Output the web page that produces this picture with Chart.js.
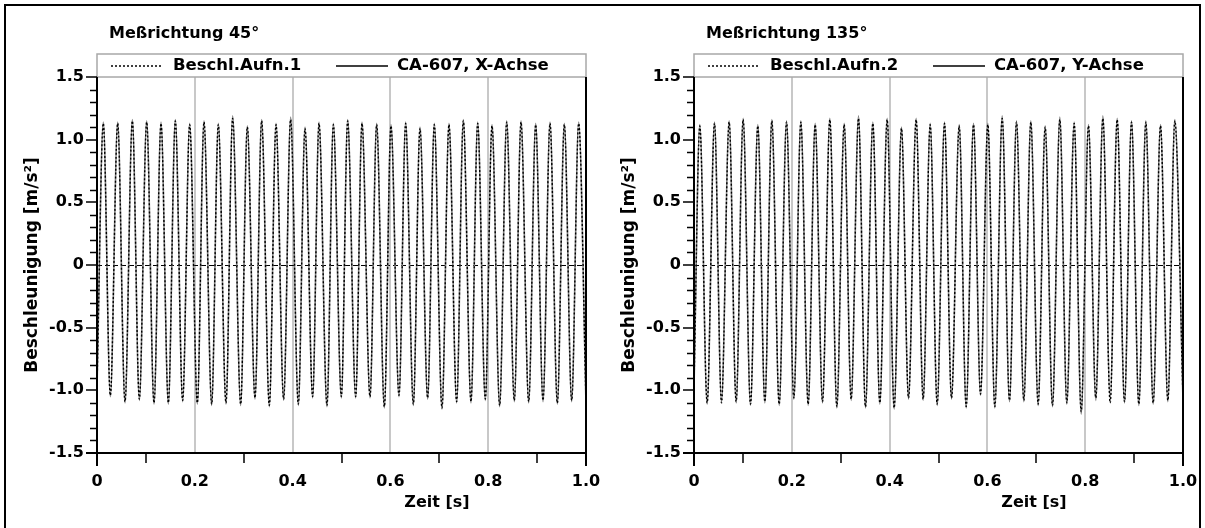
<!DOCTYPE html>
<html>
<head>
<meta charset="utf-8">
<script src="https://cdn.jsdelivr.net/npm/chart.js@4.4.1/dist/chart.umd.min.js"></script>
<style>
  html, body { margin: 0; padding: 0; background: #fff; }
  body { width: 1205px; height: 528px; position: relative; overflow: hidden; }
  .panel { position: absolute; top: 0; width: 600px; height: 528px; }
  #frame { position: absolute; left: 4px; top: 4px; width: 1197px; height: 540px; border: 2px solid #000; box-sizing: border-box; pointer-events: none; }
</style>
</head>
<body>
<div class="panel" style="left:0px"><canvas id="c1" width="600" height="528"></canvas></div>
<div class="panel" style="left:597px"><canvas id="c2" width="600" height="528"></canvas></div>
<div id="frame"></div>
<script>
// ---------------- data ----------------
const panelTitles = ['Meßrichtung 45°', 'Meßrichtung 135°'];
const dottedNames = ['Beschl.Aufn.1', 'Beschl.Aufn.2'];
const solidNames = ['CA-607, X-Achse', 'CA-607, Y-Achse'];
const xAxisTitle = 'Zeit [s]';
const yAxisTitle = 'Beschleunigung [m/s²]';

const xTickValues = [0, 0.2, 0.4, 0.6, 0.8, 1.0];
const xTickLabels = ['0', '0.2', '0.4', '0.6', '0.8', '1.0'];
const xMinorTicks = [0.1, 0.3, 0.5, 0.7, 0.9];
const xGridValues = [0.2, 0.4, 0.6, 0.8];
const yTickValues = [-1.5, -1.0, -0.5, 0, 0.5, 1.0, 1.5];
const yTickLabels = ['-1.5', '-1.0', '-0.5', '0', '0.5', '1.0', '1.5'];
const yMinorTicks = [-1.4, -1.3, -1.2, -1.1, -0.9, -0.8, -0.7, -0.6, -0.4, -0.3, -0.2, -0.1,
                     0.1, 0.2, 0.3, 0.4, 0.6, 0.7, 0.8, 0.9, 1.1, 1.2, 1.3, 1.4];

// Left panel (45°): times of wave crests and troughs [s], and their values [m/s²]
const leftPeakTimes = [0.0129, 0.0423, 0.0723, 0.1016, 0.1309, 0.1602, 0.1895, 0.2188, 0.2481, 0.2774,
  0.3074, 0.3367, 0.3661, 0.3960, 0.4254, 0.4540, 0.4833, 0.5126, 0.5419, 0.5719, 0.6012, 0.6312,
  0.6605, 0.6898, 0.7198, 0.7491, 0.7785, 0.8078, 0.8378, 0.8671, 0.8971, 0.9264, 0.9557, 0.9850];
const leftTroughTimes = [0, 0.0273, 0.0573, 0.0866, 0.1166, 0.1459, 0.1752, 0.2052, 0.2345, 0.2638,
  0.2938, 0.3231, 0.3524, 0.3817, 0.4117, 0.4410, 0.4703, 0.4997, 0.5290, 0.5583, 0.5876, 0.6176,
  0.6469, 0.6762, 0.7055, 0.7355, 0.7648, 0.7941, 0.8234, 0.8534, 0.8828, 0.9121, 0.9414, 0.9707, 1.0];
const leftSolidPeaks = [1.14, 1.14, 1.16, 1.15, 1.14, 1.16, 1.13, 1.15, 1.13, 1.19, 1.11, 1.16, 1.13, 1.18,
  1.10, 1.14, 1.13, 1.16, 1.14, 1.13, 1.12, 1.14, 1.10, 1.13, 1.13, 1.16, 1.14, 1.12, 1.15, 1.15, 1.13,
  1.14, 1.13, 1.14];
const leftSolidTroughs = [-0.98, -1.05, -1.10, -1.08, -1.11, -1.11, -1.09, -1.11, -1.12, -1.11, -1.12,
  -1.07, -1.13, -1.08, -1.12, -1.06, -1.13, -1.06, -1.06, -1.06, -1.14, -1.05, -1.12, -1.07, -1.15,
  -1.10, -1.10, -1.08, -1.13, -1.09, -1.10, -1.09, -1.11, -1.09, -1.11];
const leftDottedPeaks = [1.13, 1.13, 1.15, 1.14, 1.13, 1.15, 1.12, 1.14, 1.12, 1.17, 1.10, 1.15, 1.12, 1.16,
  1.09, 1.13, 1.12, 1.15, 1.13, 1.12, 1.11, 1.13, 1.09, 1.12, 1.12, 1.15, 1.13, 1.11, 1.14, 1.14, 1.12,
  1.13, 1.12, 1.13];
const leftDottedTroughs = [-0.97, -1.04, -1.09, -1.07, -1.10, -1.10, -1.08, -1.10, -1.11, -1.10, -1.11,
  -1.06, -1.12, -1.07, -1.11, -1.05, -1.12, -1.05, -1.05, -1.05, -1.13, -1.04, -1.11, -1.06, -1.14,
  -1.09, -1.09, -1.07, -1.12, -1.08, -1.09, -1.08, -1.10, -1.08, -1.10];

// Right panel (135°)
const rightPeakTimes = [0.0119, 0.0419, 0.0719, 0.1005, 0.1305, 0.1592, 0.1892, 0.2185, 0.2478, 0.2778,
  0.3071, 0.3364, 0.3657, 0.3950, 0.4243, 0.4543, 0.4830, 0.5123, 0.5423, 0.5716, 0.6009, 0.6302,
  0.6595, 0.6888, 0.7181, 0.7481, 0.7774, 0.8067, 0.8361, 0.8654, 0.8947, 0.9240, 0.9540, 0.9833];
const rightTroughTimes = [0, 0.0269, 0.0562, 0.0862, 0.1155, 0.1449, 0.1742, 0.2042, 0.2335, 0.2628,
  0.2921, 0.3214, 0.3507, 0.3800, 0.4093, 0.4387, 0.4686, 0.4973, 0.5266, 0.5566, 0.5859, 0.6152,
  0.6452, 0.6745, 0.7038, 0.7331, 0.7624, 0.7918, 0.8217, 0.8511, 0.8804, 0.9097, 0.9390, 0.9690, 1.0];
const rightSolidPeaks = [1.12, 1.14, 1.15, 1.17, 1.12, 1.16, 1.15, 1.15, 1.13, 1.17, 1.13, 1.19, 1.14, 1.17,
  1.10, 1.17, 1.13, 1.14, 1.12, 1.13, 1.13, 1.19, 1.15, 1.15, 1.11, 1.18, 1.14, 1.12, 1.19, 1.17, 1.15,
  1.15, 1.12, 1.16];
const rightSolidTroughs = [-0.98, -1.11, -1.09, -1.10, -1.12, -1.10, -1.12, -1.07, -1.12, -1.10, -1.14,
  -1.08, -1.14, -1.11, -1.15, -1.07, -1.08, -1.12, -1.07, -1.14, -1.04, -1.14, -1.09, -1.09, -1.12,
  -1.13, -1.11, -1.19, -1.08, -1.07, -1.10, -1.12, -1.11, -1.09, -1.08];
const rightDottedPeaks = [1.11, 1.13, 1.14, 1.16, 1.11, 1.15, 1.14, 1.14, 1.12, 1.16, 1.12, 1.17, 1.13, 1.16,
  1.09, 1.16, 1.12, 1.13, 1.11, 1.12, 1.12, 1.17, 1.14, 1.14, 1.10, 1.16, 1.13, 1.11, 1.17, 1.16, 1.14,
  1.14, 1.11, 1.15];
const rightDottedTroughs = [-0.97, -1.10, -1.10, -1.09, -1.11, -1.09, -1.11, -1.06, -1.11, -1.09, -1.13,
  -1.07, -1.13, -1.10, -1.14, -1.06, -1.07, -1.11, -1.06, -1.13, -1.03, -1.13, -1.08, -1.08, -1.11,
  -1.12, -1.10, -1.17, -1.06, -1.10, -1.09, -1.11, -1.10, -1.08, -1.07];

// ---------------- helpers ----------------
function mergePoints(peakT, peakV, troughT, troughV) {
  const pts = [];
  peakT.forEach((t, i) => pts.push({x: t, y: peakV[i]}));
  troughT.forEach((t, i) => pts.push({x: t, y: troughV[i]}));
  pts.sort((a, b) => a.x - b.x);
  return pts;
}

const FONT = '"DejaVu Sans", "Liberation Sans", Arial, sans-serif';

function decorPlugin(idx) {
  return {
    id: 'decor' + idx,
    beforeDatasetsDraw(chart) {
      const {ctx, chartArea: ca, scales: {x, y}} = chart;
      ctx.save();
      // vertical grid lines
      ctx.strokeStyle = '#c8c8c8';
      ctx.lineWidth = 2;
      xGridValues.forEach(v => {
        const px = Math.round(x.getPixelForValue(v));
        ctx.beginPath(); ctx.moveTo(px, ca.top); ctx.lineTo(px, ca.bottom); ctx.stroke();
      });
      // zero line
      ctx.strokeStyle = '#000';
      ctx.lineWidth = 1;
      ctx.setLineDash([5, 3]);
      const py0 = Math.round(y.getPixelForValue(0)) + 0.5;
      ctx.beginPath(); ctx.moveTo(ca.left, py0); ctx.lineTo(ca.right, py0); ctx.stroke();
      ctx.restore();
    },
    afterDraw(chart) {
      const {ctx, chartArea: ca, scales: {x, y}} = chart;
      ctx.save();
      // legend box + top border (grey)
      ctx.strokeStyle = '#a8a8a8';
      ctx.lineWidth = 1.5;
      ctx.strokeRect(ca.left, 54, ca.right - ca.left, ca.top - 54);
      // axes frame (black)
      ctx.strokeStyle = '#000';
      ctx.lineWidth = 2;
      ctx.beginPath();
      ctx.moveTo(ca.left, ca.top); ctx.lineTo(ca.left, ca.bottom + 13);
      ctx.moveTo(ca.right, ca.top); ctx.lineTo(ca.right, ca.bottom + 13);
      ctx.moveTo(ca.left - 11, ca.bottom); ctx.lineTo(ca.right, ca.bottom);
      ctx.stroke();
      // ticks
      ctx.lineWidth = 1.5;
      ctx.beginPath();
      yTickValues.forEach(v => {
        const py = Math.round(y.getPixelForValue(v));
        ctx.moveTo(ca.left - 11, py); ctx.lineTo(ca.left, py);
      });
      yMinorTicks.forEach(v => {
        const py = Math.round(y.getPixelForValue(v)) + 0.5;
        ctx.moveTo(ca.left - 7, py); ctx.lineTo(ca.left, py);
      });
      xMinorTicks.forEach(v => {
        const px = Math.round(x.getPixelForValue(v));
        ctx.moveTo(px, ca.bottom); ctx.lineTo(px, ca.bottom + 10);
      });
      ctx.stroke();
      // panel title
      ctx.fillStyle = '#000';
      ctx.textBaseline = 'middle';
      ctx.textAlign = 'left';
      ctx.font = 'bold 16px ' + FONT;
      ctx.fillText(panelTitles[idx], ca.left + 12, 34);
      // legend
      const ly = 66;
      ctx.font = 'bold 16.5px ' + FONT;
      ctx.lineWidth = 1.5;
      ctx.setLineDash([2, 2]);
      ctx.beginPath(); ctx.moveTo(ca.left + 14, ly); ctx.lineTo(ca.left + 65, ly); ctx.stroke();
      ctx.setLineDash([]);
      ctx.fillText(dottedNames[idx], ca.left + 76, ly);
      ctx.beginPath(); ctx.moveTo(ca.left + 239, ly); ctx.lineTo(ca.left + 291, ly); ctx.stroke();
      ctx.fillText(solidNames[idx], ca.left + 300, ly);
      // x axis title
      ctx.font = 'bold 16px ' + FONT;
      ctx.textAlign = 'center';
      ctx.fillText(xAxisTitle, ca.left + 340, 503);
      ctx.restore();
    }
  };
}

function makeChart(canvasId, idx, solidPts, dottedPts) {
  return new Chart(document.getElementById(canvasId), {
    type: 'line',
    data: {
      datasets: [
        { label: dottedNames[idx], data: dottedPts, borderColor: '#000', borderWidth: 1.4,
          borderDash: [2, 2], pointRadius: 0, cubicInterpolationMode: 'monotone', fill: false },
        { label: solidNames[idx], data: solidPts, borderColor: '#808080', borderWidth: 1.6,
          pointRadius: 0, cubicInterpolationMode: 'monotone', fill: false }
      ]
    },
    options: {
      responsive: false,
      animation: false,
      events: [],
      layout: { padding: { top: 77, right: 14, bottom: 0, left: 0 } },
      plugins: { legend: { display: false }, title: { display: false }, tooltip: { enabled: false } },
      scales: {
        x: {
          type: 'linear', min: 0, max: 1,
          afterBuildTicks: s => { s.ticks = xTickValues.map(v => ({value: v})); },
          afterFit: s => { s.height = 75; s.paddingLeft = 0; s.paddingRight = 0; },
          grid: { display: false, drawTicks: false },
          border: { display: false },
          ticks: {
            autoSkip: false, maxRotation: 0, padding: 19, color: '#000',
            font: { family: FONT, size: 16, weight: 'bold' },
            callback: (v) => xTickLabels[xTickValues.indexOf(v)]
          }
        },
        y: {
          type: 'linear', min: -1.5, max: 1.5,
          afterBuildTicks: s => { s.ticks = yTickValues.map(v => ({value: v})); },
          afterFit: s => { s.width = 97; s.paddingTop = 0; s.paddingBottom = 0; },
          grid: { display: false, drawTicks: false },
          border: { display: false },
          ticks: {
            autoSkip: false, padding: 13, color: '#000',
            font: { family: FONT, size: 16, weight: 'bold' },
            callback: (v) => yTickLabels[yTickValues.indexOf(v)]
          },
          title: {
            display: true, text: yAxisTitle, color: '#000',
            font: { family: FONT, size: 17, weight: 'bold' },
            padding: { top: 22, bottom: 0 }
          }
        }
      }
    },
    plugins: [decorPlugin(idx)]
  });
}

makeChart('c1', 0,
  mergePoints(leftPeakTimes, leftSolidPeaks, leftTroughTimes, leftSolidTroughs),
  mergePoints(leftPeakTimes, leftDottedPeaks, leftTroughTimes, leftDottedTroughs));
makeChart('c2', 1,
  mergePoints(rightPeakTimes, rightSolidPeaks, rightTroughTimes, rightSolidTroughs),
  mergePoints(rightPeakTimes, rightDottedPeaks, rightTroughTimes, rightDottedTroughs));
</script>
</body>
</html>
